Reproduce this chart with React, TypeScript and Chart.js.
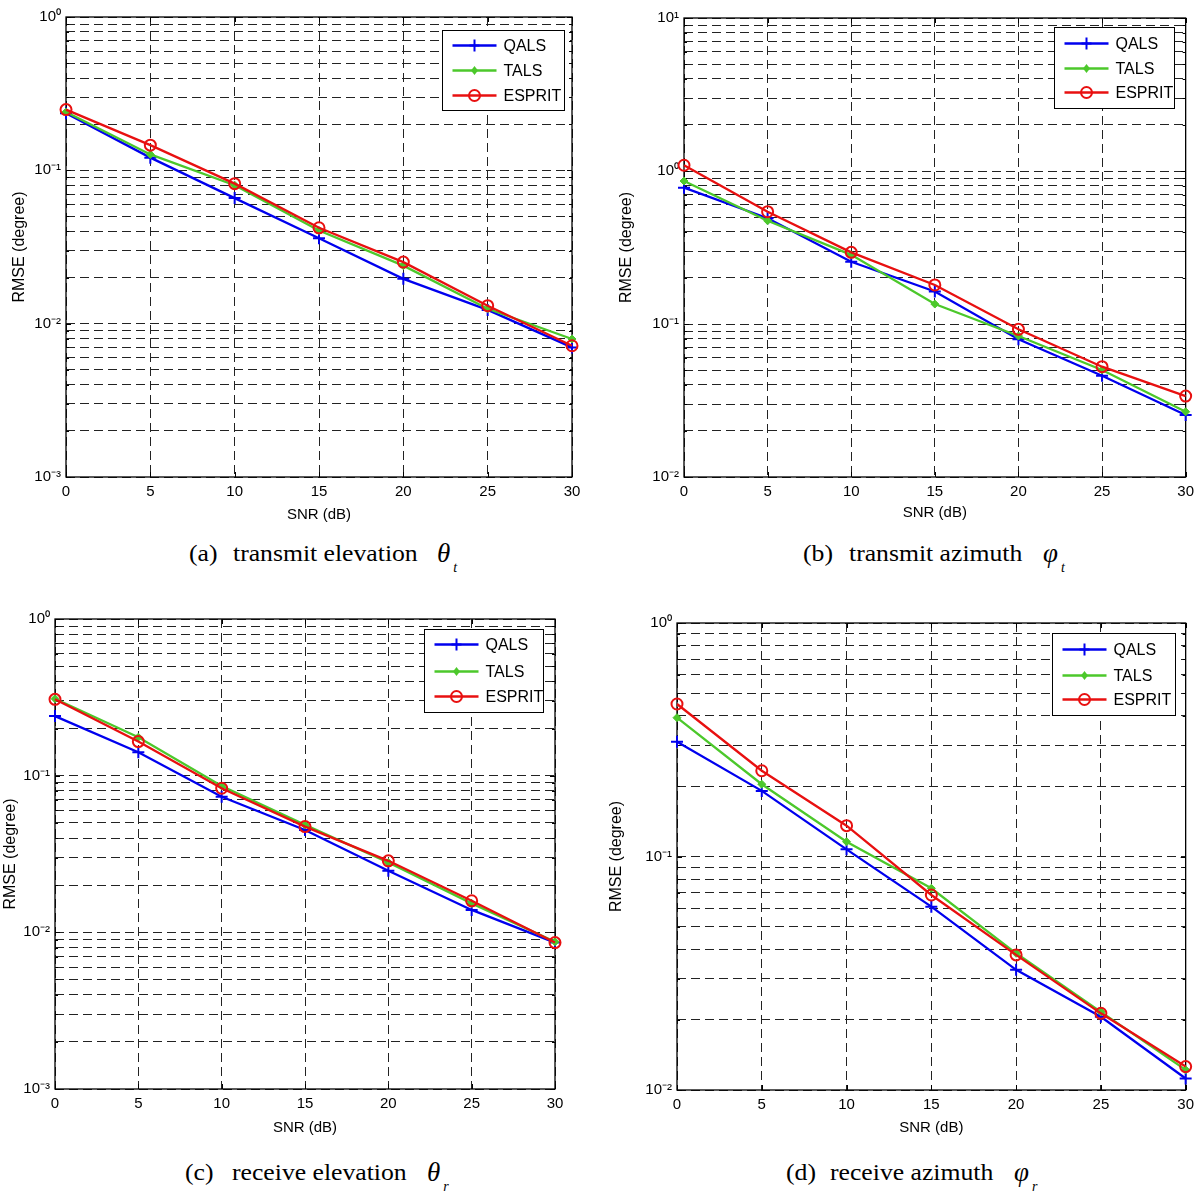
import React, { useEffect, useRef } from 'react';
import { Chart, registerables } from 'chart.js';

Chart.register(...registerables);

// ---------- data ----------
const snr = [0, 5, 10, 15, 20, 25, 30];
const xTickValues = [0, 5, 10, 15, 20, 25, 30];
const seriesNames = ['QALS', 'TALS', 'ESPRIT'];

// (a) transmit elevation
const aQALS = [0.236, 0.121, 0.0659, 0.0361, 0.0196, 0.0123, 0.0070];
const aTALS = [0.240, 0.127, 0.080, 0.0405, 0.0239, 0.0125, 0.00794];
const aESPRIT = [0.249, 0.146, 0.0819, 0.0422, 0.0252, 0.0131, 0.00718];
const aDecades = [-3, -2, -1, 0];
const aYTickLabels = ['10⁻³', '10⁻²', '10⁻¹', '10⁰'];

// (b) transmit azimuth
const bQALS = [0.778, 0.491, 0.255, 0.163, 0.0795, 0.0459, 0.0254];
const bTALS = [0.86, 0.473, 0.283, 0.135, 0.0835, 0.050, 0.0267];
const bESPRIT = [1.09, 0.542, 0.294, 0.18, 0.0923, 0.0526, 0.0338];
const bDecades = [-2, -1, 0, 1];
const bYTickLabels = ['10⁻²', '10⁻¹', '10⁰', '10¹'];

// (c) receive elevation
const cQALS = [0.240, 0.141, 0.0734, 0.045, 0.0247, 0.0139, 0.0086];
const cTALS = [0.31, 0.176, 0.086, 0.0485, 0.0279, 0.0153, 0.0087];
const cESPRIT = [0.307, 0.165, 0.0831, 0.0473, 0.0286, 0.0159, 0.0086];
const cDecades = [-3, -2, -1, 0];
const cYTickLabels = ['10⁻³', '10⁻²', '10⁻¹', '10⁰'];

// (d) receive azimuth
const dQALS = [0.310, 0.191, 0.1073, 0.061, 0.0327, 0.0206, 0.0112];
const dTALS = [0.393, 0.204, 0.1157, 0.0731, 0.0385, 0.0216, 0.0122];
const dESPRIT = [0.45, 0.233, 0.1355, 0.0684, 0.0379, 0.0213, 0.0126];
const dDecades = [-2, -1, 0];
const dYTickLabels = ['10⁻²', '10⁻¹', '10⁰'];

const xTitle = 'SNR (dB)';
const yTitle = 'RMSE (degree)';

// ---------- styles ----------
const COLORS = ['#0000ee', '#4cc82b', '#e81010'];
const STYLES = ['cross', 'rectRot', 'circle'];
const SANS = '"Liberation Sans", Arial, sans-serif';
const SERIF = '"Liberation Serif", "Times New Roman", serif';

function logTicks(decades: number[]) {
  const out: { value: number; major: boolean }[] = [];
  for (let i = 0; i < decades.length; i++) {
    const e = decades[i];
    if (i === decades.length - 1) {
      out.push({ value: Math.pow(10, e), major: true });
      break;
    }
    for (let m = 1; m <= 9; m++) {
      out.push({ value: Number((m * Math.pow(10, e)).toPrecision(6)), major: m === 1 });
    }
  }
  return out;
}

const framePlugin = {
  id: 'frameBox',
  beforeDatasetsDraw(chart: any) {
    const { ctx, chartArea: a, scales } = chart;
    ctx.save();
    ctx.setLineDash([]);
    ctx.strokeStyle = '#000';
    ctx.lineWidth = 1.3;
    ctx.strokeRect(a.left, a.top, a.right - a.left, a.bottom - a.top);
    ctx.lineWidth = 1;
    ctx.beginPath();
    scales.y.ticks.forEach((t: any) => {
      const py = Math.round(scales.y.getPixelForValue(t.value)) + 0.5;
      const len = t.major ? 5 : 3;
      ctx.moveTo(a.left, py); ctx.lineTo(a.left + len, py);
      ctx.moveTo(a.right, py); ctx.lineTo(a.right - len, py);
    });
    scales.x.ticks.forEach((t: any) => {
      const px = Math.round(scales.x.getPixelForValue(t.value)) + 0.5;
      ctx.moveTo(px, a.bottom); ctx.lineTo(px, a.bottom - 5);
      ctx.moveTo(px, a.top); ctx.lineTo(px, a.top + 5);
    });
    ctx.stroke();
    ctx.restore();
  },
};

function drawMarker(ctx: CanvasRenderingContext2D, style: string, x: number, y: number, color: string) {
  ctx.save();
  ctx.strokeStyle = color;
  ctx.fillStyle = color;
  ctx.lineWidth = 2;
  ctx.beginPath();
  if (style === 'cross') {
    ctx.moveTo(x - 5, y); ctx.lineTo(x + 5, y);
    ctx.moveTo(x, y - 6); ctx.lineTo(x, y + 6);
    ctx.stroke();
  } else if (style === 'rectRot') {
    ctx.moveTo(x, y - 4.5); ctx.lineTo(x + 3.5, y); ctx.lineTo(x, y + 4.5); ctx.lineTo(x - 3.5, y);
    ctx.closePath();
    ctx.fill();
  } else {
    ctx.arc(x, y, 5.5, 0, Math.PI * 2);
    ctx.stroke();
  }
  ctx.restore();
}

const legendPlugin = {
  id: 'boxLegend',
  afterDraw(chart: any, _args: any, opts: any) {
    const { ctx, chartArea: a } = chart;
    const x0 = Math.round(a.right - opts.dx - opts.w) + 0.5;
    const y0 = Math.round(a.top + opts.dy) + 0.5;
    ctx.save();
    ctx.setLineDash([]);
    ctx.fillStyle = '#fff';
    ctx.fillRect(x0, y0, opts.w, opts.h);
    ctx.strokeStyle = '#000';
    ctx.lineWidth = 1;
    ctx.strokeRect(x0, y0, opts.w, opts.h);
    chart.data.datasets.forEach((ds: any, i: number) => {
      const ry = y0 + opts.rows[i];
      ctx.strokeStyle = ds.borderColor;
      ctx.lineWidth = 2.5;
      ctx.beginPath();
      ctx.moveTo(x0 + 10, ry);
      ctx.lineTo(x0 + 54, ry);
      ctx.stroke();
      drawMarker(ctx, STYLES[i], x0 + 32, ry, ds.borderColor);
      ctx.fillStyle = '#000';
      ctx.font = `16px ${SANS}`;
      ctx.textBaseline = 'middle';
      ctx.textAlign = 'left';
      ctx.fillText(ds.label, x0 + 61, ry + 1);
    });
    ctx.restore();
  },
};

type PanelCfg = {
  left: number; top: number; width: number; height: number;
  yAxisW: number; xAxisH: number; padTop: number; padRight: number;
  yTitlePad: number; xTitlePad: number;
  decades: number[]; yLabels: string[];
  series: number[][];
  legend: { dx: number; dy: number; w: number; h: number; rows: number[] };
};

function Panel({ cfg }: { cfg: PanelCfg }) {
  const ref = useRef<HTMLCanvasElement | null>(null);
  useEffect(() => {
    if (!ref.current) return;
    const yTicks = logTicks(cfg.decades);
    const minE = cfg.decades[0];
    const maxE = cfg.decades[cfg.decades.length - 1];
    const chart = new Chart(ref.current, {
      type: 'line',
      data: {
        labels: snr,
        datasets: cfg.series.map((vals, i) => ({
          label: seriesNames[i],
          data: snr.map((x, k) => ({ x, y: vals[k] })),
          borderColor: COLORS[i],
          backgroundColor: i === 2 ? 'rgba(0,0,0,0)' : COLORS[i],
          borderWidth: 2.3,
          pointStyle: STYLES[i] as any,
          pointRadius: i === 0 ? 6 : i === 1 ? 4 : 5.5,
          pointBorderWidth: i === 1 ? 1 : 2,
          pointBorderColor: COLORS[i],
          pointBackgroundColor: i === 2 ? 'rgba(0,0,0,0)' : COLORS[i],
          tension: 0,
          order: 3 - i,
          clip: 10,
        })),
      },
      options: {
        responsive: false,
        animation: false,
        events: [],
        layout: { padding: { top: cfg.padTop, right: cfg.padRight, left: 0, bottom: 0 } },
        plugins: {
          legend: { display: false },
          tooltip: { enabled: false },
          boxLegend: cfg.legend,
        } as any,
        scales: {
          x: {
            type: 'linear',
            min: 0,
            max: 30,
            afterBuildTicks: (s: any) => { s.ticks = xTickValues.map((v) => ({ value: v })); },
            afterFit: (s: any) => { s.height = cfg.xAxisH; },
            ticks: {
              autoSkip: false,
              maxRotation: 0,
              padding: 6,
              color: '#000',
              font: { family: SANS, size: 15 },
            },
            grid: { color: '#222', lineWidth: 1, drawTicks: false },
            border: { display: false, dash: [9, 5] },
            title: {
              display: true,
              text: xTitle,
              color: '#000',
              font: { family: SANS, size: 15 },
              padding: { top: 0, bottom: cfg.xTitlePad },
            },
          },
          y: {
            type: 'logarithmic',
            min: Math.pow(10, minE),
            max: Math.pow(10, maxE),
            afterBuildTicks: (s: any) => { s.ticks = yTicks.map((t) => ({ value: t.value, major: t.major })); },
            afterFit: (s: any) => { s.width = cfg.yAxisW; },
            ticks: {
              autoSkip: false,
              padding: 5,
              color: '#000',
              font: { family: SANS, size: 15 },
              callback: (value: any) => {
                const e = Math.log10(Number(value));
                const r = Math.round(e);
                if (Math.abs(e - r) < 1e-6) return cfg.yLabels[r - minE];
                return '';
              },
            },
            grid: { color: '#222', lineWidth: 1, drawTicks: false },
            border: { display: false, dash: [9, 5] },
            title: {
              display: true,
              text: yTitle,
              color: '#000',
              font: { family: SANS, size: 16 },
              padding: { top: cfg.yTitlePad, bottom: 0 },
            },
          },
        },
      },
      plugins: [framePlugin, legendPlugin],
    } as any);
    return () => chart.destroy();
  }, [cfg]);
  return (
    <canvas
      ref={ref}
      width={cfg.width}
      height={cfg.height}
      style={{ position: 'absolute', left: cfg.left, top: cfg.top, width: cfg.width, height: cfg.height }}
    />
  );
}

const panels: PanelCfg[] = [
  {
    left: 0, top: 0, width: 600, height: 530, yAxisW: 66, xAxisH: 53, padTop: 17, padRight: 28,
    yTitlePad: 10, xTitlePad: 6, decades: aDecades, yLabels: aYTickLabels,
    series: [aQALS, aTALS, aESPRIT],
    legend: { dx: 8, dy: 13, w: 122, h: 80, rows: [15, 40, 65] },
  },
  {
    left: 600, top: 0, width: 600, height: 530, yAxisW: 84, xAxisH: 53, padTop: 18, padRight: 13,
    yTitlePad: 17, xTitlePad: 8, decades: bDecades, yLabels: bYTickLabels,
    series: [bQALS, bTALS, bESPRIT],
    legend: { dx: 12, dy: 9, w: 120, h: 81, rows: [16, 41, 65] },
  },
  {
    left: 0, top: 597, width: 600, height: 545, yAxisW: 55, xAxisH: 53, padTop: 22, padRight: 45,
    yTitlePad: 1, xTitlePad: 5, decades: cDecades, yLabels: cYTickLabels,
    series: [cQALS, cTALS, cESPRIT],
    legend: { dx: 12, dy: 10, w: 119, h: 83, rows: [15, 42, 67] },
  },
  {
    left: 600, top: 597, width: 600, height: 546, yAxisW: 77, xAxisH: 53, padTop: 26, padRight: 9,
    yTitlePad: 7, xTitlePad: 6, decades: dDecades, yLabels: dYTickLabels,
    series: [dQALS, dTALS, dESPRIT],
    legend: { dx: 11, dy: 10, w: 123, h: 82, rows: [16, 42, 66] },
  },
];

type Caption = { cy: number; label: string; labelX: number; text: string; textX: number; sym: string; symX: number; sub: string };
const captions: Caption[] = [
  { cy: 553, label: '(a)', labelX: 189, text: 'transmit elevation', textX: 233, sym: 'θ', symX: 437, sub: 't' },
  { cy: 553, label: '(b)', labelX: 803, text: 'transmit azimuth', textX: 849, sym: 'φ', symX: 1043, sub: 't' },
  { cy: 1172, label: '(c)', labelX: 185, text: 'receive elevation', textX: 232, sym: 'θ', symX: 427, sub: 'r' },
  { cy: 1172, label: '(d)', labelX: 786, text: 'receive azimuth', textX: 830, sym: 'φ', symX: 1014, sub: 'r' },
];

function CaptionView({ c }: { c: Caption }) {
  const base: React.CSSProperties = {
    position: 'absolute',
    top: c.cy - 14,
    height: 28,
    lineHeight: '28px',
    fontFamily: SERIF,
    fontSize: 24,
    color: '#000',
    whiteSpace: 'pre',
    transform: 'scaleX(1.07)',
    transformOrigin: 'left center',
  };
  return (
    <>
      <span style={{ ...base, left: c.labelX }}>{c.label}</span>
      <span style={{ ...base, left: c.textX }}>{c.text}</span>
      <span style={{ ...base, left: c.symX, fontStyle: 'italic', fontSize: 27, transform: 'none' }}>
        {c.sym}
        <span style={{ fontSize: 14, position: 'relative', top: 10, marginLeft: 3 }}>{c.sub}</span>
      </span>
    </>
  );
}

export default function App() {
  return (
    <div style={{ position: 'absolute', left: 0, top: 0, width: 1200, height: 1194, background: '#fff', overflow: 'hidden' }}>
      {panels.map((p, i) => (
        <Panel key={i} cfg={p} />
      ))}
      {captions.map((c, i) => (
        <CaptionView key={i} c={c} />
      ))}
    </div>
  );
}
